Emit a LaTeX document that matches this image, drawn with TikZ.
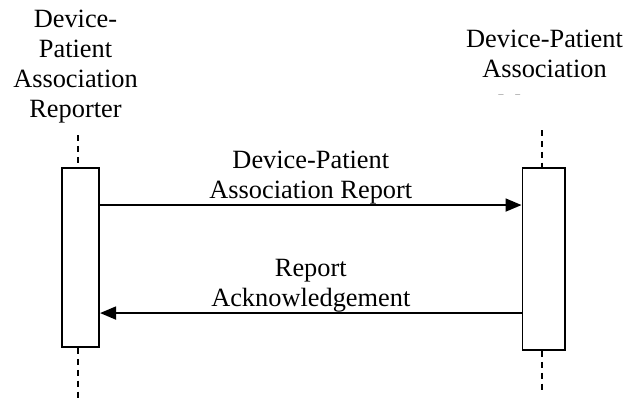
\documentclass[tikz,border=0pt]{standalone}
\usepackage{fontspec}
\setmainfont{Liberation Serif}
\usetikzlibrary{arrows.meta}

\begin{document}
\begin{tikzpicture}
\tikzset{actbox/.style={draw, line width=1.1pt, rectangle, minimum width=0.75cm, minimum height=3.58cm, inner sep=0pt},
lifeline/.style={line width=1pt, dash pattern=on 3.4pt off 2.8pt},
msg/.style={line width=1pt, -{Triangle[length=0.32cm, width=0.26cm]}},
titre/.style={align=center, inner sep=0pt, font=\fontsize{15}{17}\selectfont}}
\useasboundingbox (0, 0) rectangle (12.48, -8.04);
\node[titre, anchor=north] (H1) at (1.51, -0.2) {Device-\\Patient\\Association\\Reporter};
\begin{scope}
\clip (8.5, 0) rectangle (12.48, -1.89);
\node[titre, anchor=north] (H2) at (10.89, -0.6) {Device-Patient\\Association\\[3pt]Manager};
\end{scope}
\node[actbox] (B1) at (1.607, -5.15) {};
\node[actbox, minimum width=0.85cm, minimum height=3.64cm] (B2) at (10.875, -5.18) {};
\coordinate (T1) at (1.555, -2.7);
\coordinate (E1) at (1.555, -8.0);
\coordinate (T2) at (10.834, -2.6);
\coordinate (E2) at (10.834, -7.8);
\draw[lifeline] (T1) -- (T1 |- B1.north);
\draw[lifeline] (T1 |- B1.south) -- (E1);
\draw[lifeline] (T2) -- (T2 |- B2.north);
\draw[lifeline] (T2 |- B2.south) -- (E2);
\draw[msg] ([yshift=-0.76cm]B1.north east) -- node[titre, above] (L1) {Device-Patient\\Association Report} ([yshift=-0.76cm]B2.north west);
\draw[msg] ([yshift=-2.92cm]B2.north west) -- node[titre, above] (L2) {Report\\Acknowledgement} ([yshift=-2.92cm]B1.north east);
\end{tikzpicture}
\end{document}
